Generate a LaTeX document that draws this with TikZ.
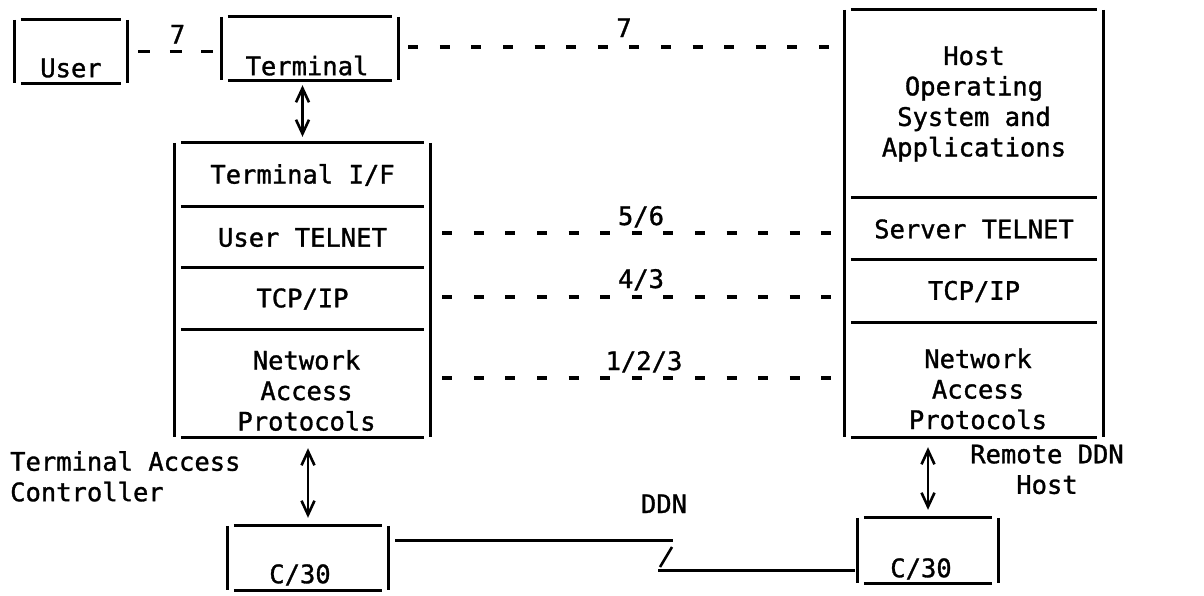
\documentclass[tikz,border=0pt]{standalone}
\usepackage{fontspec}
\newfontfamily\tyfont[FakeBold=1.2]{DejaVu Sans Mono}
\usetikzlibrary{arrows.meta}
\tikzset{
  tt/.style={font=\tyfont\fontsize{25.5}{30.5}\selectfont},
  cell/.style={tt, inner sep=0pt, align=center},
  lbl/.style={tt, inner sep=0pt, anchor=base},
  bar/.style={line width=3.2pt},
  rulel/.style={line width=3pt},
  dashl/.style={line width=3.4pt, dash pattern=on 10pt off 21.6pt},
  dashs/.style={line width=3.4pt, dash pattern=on 12pt off 19.6pt},
  biarrow/.style={line width=2.6pt,
    {Straight Barb[length=14pt,width=13pt,line width=2.6pt]}-{Straight Barb[length=14pt,width=13pt,line width=2.6pt]}},
}
% frame drawn as typed: bars full height, rules inset
\newcommand\tyframe[2]{%
  \draw[bar] (#1.north west) -- (#2.south west);
  \draw[bar] (#1.north east) -- (#2.south east);
  \draw[rulel] ([xshift=6pt]#1.north west) -- ([xshift=-6pt]#1.north east);
  \draw[rulel] ([xshift=6pt]#2.south west) -- ([xshift=-6pt]#2.south east);
}
\newcommand\tysep[1]{%
  \draw[rulel] ([xshift=6pt]#1.north west) -- ([xshift=-6pt]#1.north east);
}
\begin{document}
\begin{tikzpicture}[x=1pt,y=-1pt]
\useasboundingbox (0,0) rectangle (1204,595);

% ---- top row
\node[cell, minimum width=112pt, minimum height=63pt] (user) at (71,51.5) {};
\node[lbl] (userT) at ([yshift=6pt]user.south) {User};
\tyframe{user}{user}

\node[cell, minimum width=176pt, minimum height=63pt] (term) at (310,48.5) {};
\node[lbl] (termT) at ([xshift=-3pt,yshift=5pt]term.south) {Terminal};
\tyframe{term}{term}

% ---- Terminal Access Controller stack
\node[cell, minimum width=255pt, minimum height=64pt] (tif) at (302.5,175) {Terminal I/F};
\node[cell, minimum width=255pt, minimum height=61pt] (utel) at (302.5,237.5) {User TELNET};
\node[cell, minimum width=255pt, minimum height=62pt] (ltcp) at (302.5,299) {TCP/IP};
\node[cell, minimum width=255pt, minimum height=107pt] (lnap) at (302.5,383.5) {};
\node[cell] (lnapT) at ([xshift=4pt,yshift=-7pt]lnap.center) {Network\\Access\\Protocols};
\tyframe{tif}{lnap}
\tysep{utel}
\tysep{ltcp}
\tysep{lnap}

% ---- Host stack
\node[cell, minimum width=258pt, minimum height=188pt] (hos) at (974,104) {Host\\Operating\\System and\\Applications};
\node[cell, minimum width=258pt, minimum height=62pt] (stel) at (974,229) {Server TELNET};
\node[cell, minimum width=258pt, minimum height=63pt] (rtcp) at (974,291.5) {TCP/IP};
\node[cell, minimum width=258pt, minimum height=114pt] (rnap) at (974,380) {};
\node[cell] (rnapT) at ([xshift=4pt,yshift=-9pt]rnap.center) {Network\\Access\\Protocols};
\tyframe{hos}{rnap}
\tysep{stel}
\tysep{rtcp}
\tysep{rnap}

% ---- C/30 boxes
\node[cell, minimum width=160pt, minimum height=64pt] (c30L) at (308,558) {};
\node[lbl] (c30LT) at ([xshift=-8pt,yshift=7pt]c30L.south) {C/30};
\tyframe{c30L}{c30L}
\node[cell, minimum width=140pt, minimum height=65pt] (c30R) at (928,550.5) {};
\node[lbl] (c30RT) at ([xshift=-7pt,yshift=6pt]c30R.south) {C/30};
\tyframe{c30R}{c30R}

% ---- free labels
\node[tt, inner sep=0pt, anchor=north west, align=left] (tac) at (10,451) {Terminal Access\\Controller};
\node[tt, inner sep=0pt, anchor=north, align=center] (rdh) at (1047,444.5) {Remote DDN\\Host};

% ---- peer dashed connectors
\draw[dashs] ([xshift=11pt]user.east) -- ([xshift=-5pt]user.east -| term.west)
  node[lbl, midway, yshift=8pt] (l7a) {7};
\draw[dashl] ([xshift=10pt,yshift=1.5pt]term.east) -- ([xshift=-5pt,yshift=1.5pt]term.east -| hos.west)
  node[lbl, midway, yshift=10pt] (l7b) {7};
\draw[dashl] ([xshift=12pt,yshift=4.5pt]utel.east) -- ([xshift=-5pt,yshift=4.5pt]utel.east -| stel.west)
  node[lbl, midway, yshift=8pt] (l56) {5/6};
\draw[dashl] ([xshift=12pt,yshift=2pt]ltcp.east) -- ([xshift=-5pt,yshift=2pt]ltcp.east -| rtcp.west)
  node[lbl, midway, yshift=9pt] (l43) {4/3};
\draw[dashl] ([xshift=12pt,yshift=5.5pt]lnap.east) -- ([xshift=-5pt,yshift=5.5pt]lnap.east -| rnap.west)
  node[lbl, midway, xshift=3pt, yshift=8pt] (l123) {1/2/3};

% ---- vertical double arrows
\draw[biarrow] ([yshift=-5pt]tif.north |- term.south) -- ([yshift=6pt]tif.north);
\draw[biarrow] ([yshift=-11pt]c30L.north |- lnap.south) -- ([yshift=8pt]c30L.north);
\draw[biarrow] ([yshift=-10pt]c30R.north |- rnap.south) -- ([yshift=8pt]c30R.north);

% ---- DDN link
\coordinate (ddnA) at (673,540);
\coordinate (ddnB) at (658,570);
\draw[rulel] ([xshift=7pt]c30L.east |- ddnA) -- (ddnA);
\draw[line width=2.6pt] ([xshift=-1pt,yshift=-7pt]ddnA) -- ([xshift=2pt,yshift=3pt]ddnB);
\draw[rulel] (ddnB) -- ([xshift=-3pt]ddnB -| c30R.west);
\node[lbl] (ddn) at ([xshift=-9pt,yshift=27pt]ddnA) {DDN};
\end{tikzpicture}
\end{document}
